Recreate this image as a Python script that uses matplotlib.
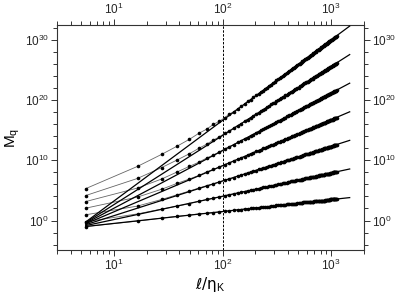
import numpy as np
import matplotlib
matplotlib.use("Agg")
import matplotlib.pyplot as plt
from matplotlib.ticker import LogLocator, FixedLocator, NullFormatter, LogFormatterSciNotation

plt.rcParams['font.family'] = ['Liberation Sans', 'DejaVu Sans']
plt.rcParams['mathtext.fontset'] = 'custom'
plt.rcParams['mathtext.rm'] = 'Liberation Sans'
plt.rcParams['mathtext.it'] = 'Liberation Sans:italic'

# separations l/eta_K of the measured points
ell = [5.5, 16.5, 27.5, 38.5, 49.5, 60.5, 71.5, 82.5, 93.5, 104.5,
       115.5, 126.5, 137.5, 148.5, 159.5, 170.5, 181.5, 192.5, 203.5, 214.5,
       225.5, 236.5, 247.5, 258.5, 269.5, 280.5, 291.5, 302.5, 313.5, 324.5,
       335.5, 346.5, 357.5, 368.5, 379.5, 390.5, 401.5, 412.5, 423.5, 434.5,
       445.5, 456.5, 467.5, 478.5, 489.5, 500.5, 511.5, 522.5, 533.5, 544.5,
       555.5, 566.5, 577.5, 588.5, 599.5, 610.5, 621.5, 632.5, 643.5, 654.5,
       665.5, 676.5, 687.5, 698.5, 709.5, 720.5, 731.5, 742.5, 753.5, 764.5,
       775.5, 786.5, 797.5, 808.5, 819.5, 830.5, 841.5, 852.5, 863.5, 874.5,
       885.5, 896.5, 907.5, 918.5, 929.5, 940.5, 951.5, 962.5, 973.5, 984.5,
       995.5, 1006.5, 1017.5, 1028.5, 1039.5, 1050.5, 1061.5, 1072.5, 1083.5, 1094.5,
       1105.5, 1116.5, 1127.5]

# log10 of the moments M_q, one list per order
logM1 = [-1.0, -0.1, 0.4, 0.7, 0.9, 1.1, 1.2, 1.3, 1.4, 1.5,
         1.6, 1.7, 1.8, 1.8, 1.9, 1.9, 2.0, 2.1, 2.1, 2.1,
         2.2, 2.2, 2.3, 2.3, 2.3, 2.4, 2.4, 2.4, 2.5, 2.5,
         2.5, 2.6, 2.6, 2.6, 2.6, 2.7, 2.7, 2.7, 2.7, 2.8,
         2.8, 2.8, 2.8, 2.8, 2.9, 2.9, 2.9, 2.9, 2.9, 2.9,
         3.0, 3.0, 3.0, 3.0, 3.0, 3.0, 3.1, 3.1, 3.1, 3.1,
         3.1, 3.1, 3.1, 3.2, 3.2, 3.2, 3.2, 3.2, 3.2, 3.2,
         3.2, 3.3, 3.3, 3.3, 3.3, 3.3, 3.3, 3.3, 3.3, 3.3,
         3.4, 3.4, 3.4, 3.4, 3.4, 3.4, 3.4, 3.4, 3.4, 3.5,
         3.5, 3.5, 3.5, 3.5, 3.5, 3.5, 3.5, 3.5, 3.5, 3.5,
         3.6, 3.6, 3.6]
logM2 = [-0.2, 1.1, 1.9, 2.4, 2.8, 3.2, 3.5, 3.7, 3.9, 4.1,
         4.3, 4.4, 4.6, 4.7, 4.8, 4.9, 5.0, 5.1, 5.2, 5.3,
         5.4, 5.5, 5.5, 5.6, 5.7, 5.8, 5.8, 5.9, 5.9, 6.0,
         6.1, 6.1, 6.2, 6.2, 6.3, 6.3, 6.4, 6.4, 6.5, 6.5,
         6.5, 6.6, 6.6, 6.7, 6.7, 6.7, 6.8, 6.8, 6.8, 6.9,
         6.9, 6.9, 7.0, 7.0, 7.0, 7.1, 7.1, 7.1, 7.2, 7.2,
         7.2, 7.2, 7.3, 7.3, 7.3, 7.3, 7.4, 7.4, 7.4, 7.4,
         7.5, 7.5, 7.5, 7.5, 7.6, 7.6, 7.6, 7.6, 7.6, 7.7,
         7.7, 7.7, 7.7, 7.8, 7.8, 7.8, 7.8, 7.8, 7.8, 7.9,
         7.9, 7.9, 7.9, 7.9, 8.0, 8.0, 8.0, 8.0, 8.0, 8.0,
         8.1, 8.1, 8.1]
logM3 = [0.95, 2.4, 3.5, 4.3, 4.9, 5.4, 5.8, 6.1, 6.4, 6.7,
         6.9, 7.1, 7.4, 7.6, 7.7, 7.9, 8.1, 8.2, 8.3, 8.5,
         8.6, 8.7, 8.8, 8.9, 9.0, 9.1, 9.2, 9.3, 9.4, 9.5,
         9.6, 9.7, 9.8, 9.8, 9.9, 10.0, 10.0, 10.1, 10.2, 10.2,
         10.3, 10.4, 10.4, 10.5, 10.5, 10.6, 10.6, 10.7, 10.8, 10.8,
         10.9, 10.9, 11.0, 11.0, 11.0, 11.1, 11.1, 11.2, 11.2, 11.3,
         11.3, 11.3, 11.4, 11.4, 11.5, 11.5, 11.5, 11.6, 11.6, 11.7,
         11.7, 11.7, 11.8, 11.8, 11.8, 11.9, 11.9, 11.9, 12.0, 12.0,
         12.0, 12.1, 12.1, 12.1, 12.1, 12.2, 12.2, 12.2, 12.3, 12.3,
         12.3, 12.3, 12.4, 12.4, 12.4, 12.4, 12.5, 12.5, 12.5, 12.6,
         12.6, 12.6, 12.6]
logM4 = [2.05, 3.9, 5.2, 6.2, 6.9, 7.5, 8.1, 8.5, 8.9, 9.3,
         9.6, 9.9, 10.2, 10.4, 10.6, 10.9, 11.1, 11.3, 11.5, 11.6,
         11.8, 12.0, 12.1, 12.2, 12.4, 12.5, 12.6, 12.8, 12.9, 13.0,
         13.1, 13.2, 13.3, 13.4, 13.5, 13.6, 13.7, 13.8, 13.9, 14.0,
         14.1, 14.1, 14.2, 14.3, 14.4, 14.4, 14.5, 14.6, 14.7, 14.7,
         14.8, 14.9, 14.9, 15.0, 15.0, 15.1, 15.2, 15.2, 15.3, 15.3,
         15.4, 15.4, 15.5, 15.6, 15.6, 15.7, 15.7, 15.8, 15.8, 15.9,
         15.9, 15.9, 16.0, 16.0, 16.1, 16.1, 16.2, 16.2, 16.3, 16.3,
         16.3, 16.4, 16.4, 16.5, 16.5, 16.5, 16.6, 16.6, 16.7, 16.7,
         16.7, 16.8, 16.8, 16.8, 16.9, 16.9, 16.9, 17.0, 17.0, 17.0,
         17.1, 17.1, 17.1]
logM5 = [3.15, 5.4, 6.9, 8.1, 9.0, 9.7, 10.4, 10.9, 11.4, 11.9,
         12.3, 12.6, 13.0, 13.3, 13.6, 13.8, 14.1, 14.3, 14.6, 14.8,
         15.0, 15.2, 15.4, 15.5, 15.7, 15.9, 16.1, 16.2, 16.4, 16.5,
         16.6, 16.8, 16.9, 17.0, 17.1, 17.3, 17.4, 17.5, 17.6, 17.7,
         17.8, 17.9, 18.0, 18.1, 18.2, 18.3, 18.4, 18.5, 18.6, 18.6,
         18.7, 18.8, 18.9, 19.0, 19.0, 19.1, 19.2, 19.3, 19.3, 19.4,
         19.5, 19.5, 19.6, 19.7, 19.7, 19.8, 19.9, 19.9, 20.0, 20.1,
         20.1, 20.2, 20.2, 20.3, 20.3, 20.4, 20.5, 20.5, 20.6, 20.6,
         20.7, 20.7, 20.8, 20.8, 20.9, 20.9, 21.0, 21.0, 21.1, 21.1,
         21.2, 21.2, 21.2, 21.3, 21.3, 21.4, 21.4, 21.5, 21.5, 21.5,
         21.6, 21.6, 21.7]
logM6 = [4.15, 7.0, 8.8, 10.1, 11.1, 12.0, 12.7, 13.4, 13.9, 14.5,
         14.9, 15.4, 15.8, 16.1, 16.5, 16.8, 17.1, 17.4, 17.7, 17.9,
         18.2, 18.4, 18.6, 18.9, 19.1, 19.3, 19.5, 19.6, 19.8, 20.0,
         20.2, 20.3, 20.5, 20.6, 20.8, 20.9, 21.0, 21.2, 21.3, 21.4,
         21.6, 21.7, 21.8, 21.9, 22.0, 22.1, 22.3, 22.4, 22.5, 22.6,
         22.7, 22.8, 22.9, 23.0, 23.0, 23.1, 23.2, 23.3, 23.4, 23.5,
         23.6, 23.6, 23.7, 23.8, 23.9, 24.0, 24.0, 24.1, 24.2, 24.3,
         24.3, 24.4, 24.5, 24.5, 24.6, 24.7, 24.7, 24.8, 24.9, 24.9,
         25.0, 25.1, 25.1, 25.2, 25.2, 25.3, 25.3, 25.4, 25.5, 25.5,
         25.6, 25.6, 25.7, 25.7, 25.8, 25.8, 25.9, 25.9, 26.0, 26.0,
         26.1, 26.1, 26.2]
logM7 = [5.3, 9.0, 11.0, 12.4, 13.5, 14.5, 15.2, 16.0, 16.5, 17.1,
         17.7, 18.1, 18.6, 19.0, 19.4, 19.8, 20.1, 20.5, 20.8, 21.1,
         21.4, 21.6, 21.9, 22.1, 22.4, 22.6, 22.8, 23.1, 23.3, 23.5,
         23.7, 23.8, 24.0, 24.2, 24.4, 24.5, 24.7, 24.9, 25.0, 25.2,
         25.3, 25.4, 25.6, 25.7, 25.9, 26.0, 26.1, 26.2, 26.4, 26.5,
         26.6, 26.7, 26.8, 26.9, 27.0, 27.1, 27.2, 27.3, 27.4, 27.5,
         27.6, 27.7, 27.8, 27.9, 28.0, 28.1, 28.2, 28.3, 28.4, 28.4,
         28.5, 28.6, 28.7, 28.8, 28.8, 28.9, 29.0, 29.1, 29.2, 29.2,
         29.3, 29.4, 29.4, 29.5, 29.6, 29.7, 29.7, 29.8, 29.9, 29.9,
         30.0, 30.0, 30.1, 30.2, 30.2, 30.3, 30.4, 30.4, 30.5, 30.5,
         30.6, 30.6, 30.7]
moments = [logM1, logM2, logM3, logM4, logM5, logM6, logM7]

# power-law fits: log10 M_q at the two ends of the fit range
fit_ell = [5.5, 1480]
fit_lo = [-1.0, -0.85, -0.7, -0.55, -0.45, -0.35, -0.25]
fit_hi = [3.81, 8.57, 13.33, 18.08, 22.84, 27.6, 32.34]

fig = plt.figure(figsize=(3.99, 2.99), dpi=100)
ax = fig.add_axes([0.143, 0.164, 0.769, 0.752])

for logm, lo, hi in zip(moments, fit_lo, fit_hi):
    m = 10.0 ** np.array(logm)
    ax.plot(ell, m, '-', color='0.4', lw=0.6, zorder=2)
    ax.plot(ell, m, 'o', color='k', ms=2.6, mew=0, zorder=3)
    ax.plot(fit_ell, [10.0 ** lo, 10.0 ** hi], '-', color='k', lw=0.9, zorder=4)

ax.axvline(100, color='k', lw=0.7, ls=(0, (2.5, 1.5)), zorder=1)

ax.set_xscale('log')
ax.set_yscale('log')
ax.set_xlim(3, 2000)
ax.set_ylim(10 ** -4.9, 10 ** 32.5)

ax.yaxis.set_major_locator(FixedLocator([1e0, 1e10, 1e20, 1e30]))
ax.yaxis.set_minor_locator(FixedLocator([10.0 ** p for p in range(-4, 33, 2) if p % 10]))
ax.yaxis.set_major_formatter(LogFormatterSciNotation())
ax.yaxis.set_minor_formatter(NullFormatter())
ax.xaxis.set_major_locator(LogLocator(base=10, numticks=10))
ax.xaxis.set_minor_locator(LogLocator(base=10, subs=np.arange(2, 10), numticks=10))
ax.xaxis.set_minor_formatter(NullFormatter())

ax.tick_params(which='both', direction='out', top=True, right=True,
               labeltop=True, labelright=True, labelsize=8.5, color='0.2',
               labelcolor='0.15', width=0.7, pad=2)
ax.tick_params(which='major', length=4)
ax.tick_params(which='minor', length=3)
for sp in ax.spines.values():
    sp.set_linewidth(0.8)
    sp.set_color('0.2')

ax.set_xlabel(r'ℓ/η$_\mathrm{K}$', fontsize=11, family=['DejaVu Sans'], labelpad=1)
ax.set_ylabel(r'M$_\mathrm{q}$', fontsize=11, labelpad=2)

fig.savefig('out.png', dpi=100)
